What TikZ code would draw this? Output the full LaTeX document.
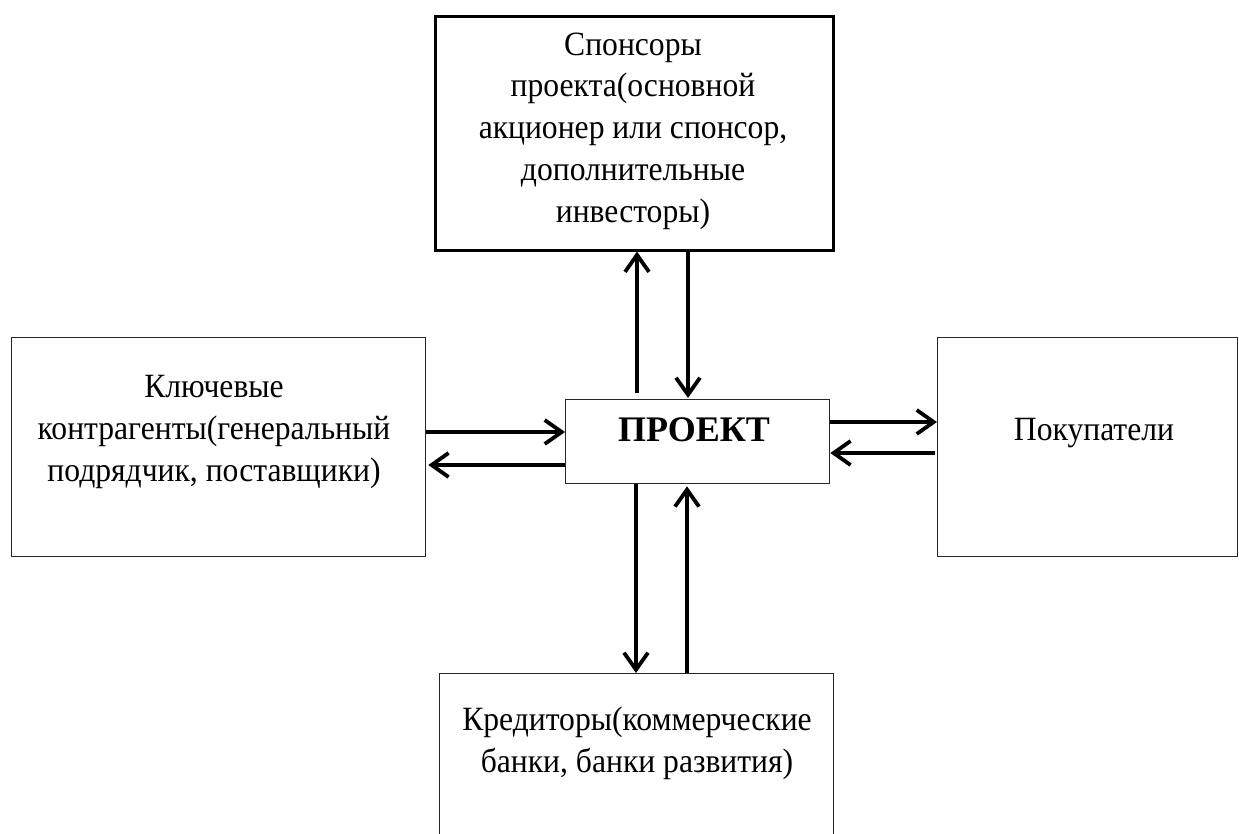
\documentclass[tikz,border=0pt]{standalone}
\usepackage{fontspec}
\setmainfont{Liberation Serif}
\newfontfamily\regfont{Liberation Serif}[FakeStretch=0.93]
\usetikzlibrary{arrows.meta}
\begin{document}
\begin{tikzpicture}[x=1pt,y=-1pt,
  box/.style={draw=black!85,line width=1.3pt,rectangle,inner sep=0pt,anchor=north west},
  thickbox/.style={draw=black,line width=2.6pt,rectangle,inner sep=0pt,anchor=north west},
  txt/.style={align=center,inner sep=0pt,font=\regfont\fontsize{34}{41.7}\selectfont},
  arr/.style={line width=3.8pt,-{Straight Barb[length=17pt,width=24pt]}}]
\useasboundingbox (0,0) rectangle (1239,834);
\fill[white] (0,0) rectangle (1239,834);
% boxes
\node[thickbox,minimum width=398pt,minimum height=234pt] (spons) at (434,15) {};
\node[box,minimum width=414pt,minimum height=219pt] (left) at (11,337) {};
\node[box,minimum width=300pt,minimum height=219pt] (right) at (937,337) {};
\node[box,minimum width=264pt,minimum height=84pt] (proj) at (565,399) {};
\node[box,minimum width=394pt,minimum height=220pt] (cred) at (439,673) {};
% texts
\node[txt] (tspons) at (633,131) {Спонсоры\\проекта(основной\\акционер или спонсор,\\дополнительные\\инвесторы)};
\node[txt] (tleft) at (214,432) {Ключевые\\контрагенты(генеральный\\подрядчик, поставщики)};
\node[txt] (tright) at (1094,433) {Покупатели};
\node[txt] (tcred) at (637,743) {Кредиторы(коммерческие\\банки, банки развития)};
\node[inner sep=0pt,font=\fontsize{36}{43}\selectfont\bfseries] (tproj) at (694,430) {ПРОЕКТ};
% connector guides
\coordinate (xa) at (637,0);
\coordinate (xb) at (688,0);
\coordinate (xc) at (636,0);
\coordinate (xd) at (687,0);
\coordinate (ya) at (0,432);
\coordinate (yb) at (0,465);
\coordinate (yc) at (0,422);
\coordinate (yd) at (0,453);
% arrows
\draw[arr,shorten <=6pt] (proj.north -| xa) -- (spons.south -| xa);
\draw[arr,shorten >=1pt] (spons.south -| xb) -- (proj.north -| xb);
\draw[arr] (left.east |- ya) -- (proj.west |- ya);
\draw[arr,shorten >=2pt] (proj.west |- yb) -- (left.east |- yb);
\draw[arr] (proj.east |- yc) -- (right.west |- yc);
\draw[arr,shorten <=2pt] (right.west |- yd) -- (proj.east |- yd);
\draw[arr] (proj.south -| xc) -- (cred.north -| xc);
\draw[arr,shorten >=2pt] (cred.north -| xd) -- (proj.south -| xd);
\end{tikzpicture}
\end{document}
